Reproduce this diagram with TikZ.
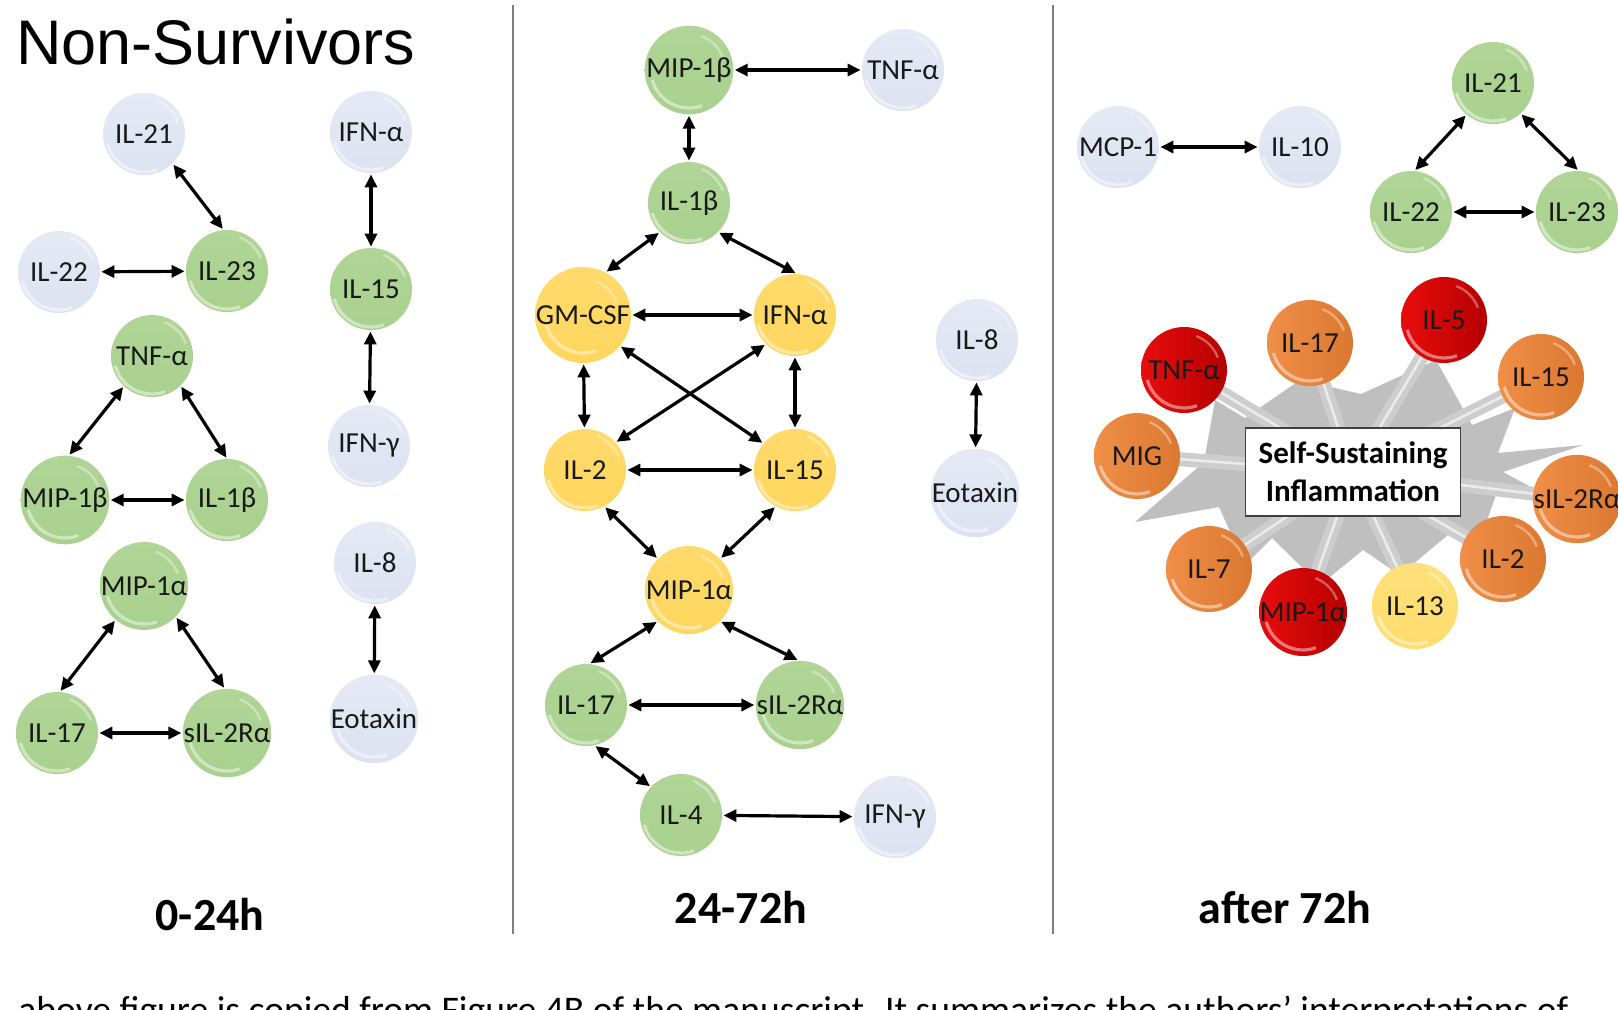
\documentclass[tikz,border=0pt]{standalone}
\usepackage{fontspec}
\setmainfont{Carlito}
\newfontfamily\arialf{Liberation Sans}
\usetikzlibrary{arrows.meta}
\definecolor{cblue}{HTML}{DCE2F1}
\definecolor{cgreen}{HTML}{A9D18E}
\definecolor{cyel}{HTML}{FFD65E}
\definecolor{cyeltwo}{HTML}{FFDC6C}
\definecolor{corange}{HTML}{EE8234}
\definecolor{cred}{HTML}{E80000}
\definecolor{cstar}{HTML}{BFBFBF}
\definecolor{crod}{HTML}{CDCDCD}
\definecolor{cdiv}{HTML}{7F7F7F}
\tikzset{
  bub/.style={circle, inner sep=0pt, minimum size=41pt, text=black!90,
    font=\fontsize{14.5}{16}\selectfont},
  hl/.style={path picture={
     \draw[white, opacity=0.45, line width=1.6pt] (path picture bounding box.center)
        ++(-165:19pt) arc[start angle=-165, end angle=-70, radius=19pt];
     \draw[white, opacity=0.35, line width=1.2pt] (path picture bounding box.center)
        ++(20:18pt) arc[start angle=20, end angle=70, radius=18pt];}},
  bl/.style={bub, hl, top color=cblue!75!white, bottom color=cblue},
  gr/.style={bub, hl, top color=cgreen!92!white, bottom color=cgreen},
  ye/.style={bub, hl, top color=cyel!92!white, bottom color=cyel},
  big/.style={minimum size=43pt},
  og/.style={bub, big, hl, left color=corange!90!white, right color=corange!92!black},
  rd/.style={bub, big, hl, left color=cred!95!white, right color=cred!78!black},
  yl/.style={bub, big, hl, top color=cyeltwo!90!white, bottom color=cyeltwo},
  arr/.style={{Triangle[length=6.5pt,width=6pt]}-{Triangle[length=6.5pt,width=6pt]},
    line width=1.6pt, black, shorten <=0.5pt, shorten >=0.5pt},
  period/.style={anchor=base, inner sep=0pt, font=\bfseries\fontsize{23}{26}\selectfont},
  rod/.style={line width=7pt, crod},
  rodhl/.style={line width=1.3pt, white, opacity=0.6},
  divider/.style={cdiv, line width=1pt}
}
\begin{document}
\begin{tikzpicture}[x=0.5pt, y=-0.5pt]
\useasboundingbox (0,0) rectangle (1618,1009);
\clip (0,0) rectangle (1618,1009);
\fill[white] (0,0) rectangle (1618,1009);

% title
\node[anchor=base west, inner sep=0pt, font=\arialf\fontsize{31.5}{36}\selectfont] (title) at (16,64) {Non-Survivors};

% dividers
\coordinate (d1t) at (513,5); \coordinate (d1b) at (513,934);
\coordinate (d2t) at (1053,5); \coordinate (d2b) at (1053,934);
\draw[divider] (d1t) -- (d1b);
\draw[divider] (d2t) -- (d2b);

% ---------- panel 1 ----------
\node[bl] (a21) at (144,134) {IL-21};
\node[bl] (aIFNa) at (371,132) {IFN-α};
\node[bl] (a22) at (59,272) {IL-22};
\node[gr] (a23) at (227,271) {IL-23};
\node[gr] (a15) at (371,289) {IL-15};
\node[gr] (aTNF) at (152,356) {TNF-α};
\node[bl] (aIFNg) at (369,446) {IFN-γ};
\node[gr] (aMIPb) at (65,500) {MIP-1β};
\node[gr] (a1b) at (227,500) {IL-1β};
\node[gr] (aMIPa) at (144,586) {MIP-1α};
\node[gr] (a17) at (57,733) {IL-17};
\node[gr] (aS2R) at (227,733) {sIL-2Rα};
\node[bl] (a8) at (375,563) {IL-8};
\node[bl] (aEot) at (374,719) {Eotaxin};
\node[period] (t1) at (210,930) {0-24h};

\draw[arr] (a21.-46) -- (a23.95);
\draw[arr] (a22) -- (a23);
\draw[arr] (aIFNa) -- (a15);
\draw[arr] (a15) -- (aIFNg);
\draw[arr] (aTNF.-133) -- (aMIPb.85);
\draw[arr] (aTNF.-46) -- (a1b.90);
\draw[arr] (aMIPb) -- (a1b);
\draw[arr] (aMIPa.-130) -- (a17.86);
\draw[arr] (aMIPa.-44) -- (aS2R.93);
\draw[arr] (a17) -- (aS2R);
\draw[arr] (a8) -- (aEot);

% ---------- panel 2 ----------
\node[gr] (bMIPb) at (689,70) {MIP-1β};
\node[bl] (bTNF) at (903,70) {TNF-α};
\node[gr] (b1b) at (689,203) {IL-1β};
\node[ye] (bGM) at (583,315) {GM-CSF};
\node[ye] (bIFNa) at (795,315) {IFN-α};
\node[ye] (b2) at (585,470) {IL-2};
\node[ye] (b15) at (795,470) {IL-15};
\node[bl] (b8) at (977,340) {IL-8};
\node[bl] (bEot) at (975,493) {Eotaxin};
\node[ye] (bMIPa) at (689,590) {MIP-1α};
\node[gr] (b17) at (586,705) {IL-17};
\node[gr] (bS2R) at (800,705) {sIL-2Rα};
\node[gr] (b4) at (681,815) {IL-4};
\node[bl] (bIFNg) at (895,817) {IFN-γ};
\node[period] (t2) at (741,923) {24-72h};

\draw[arr] (bMIPb) -- (bTNF);
\draw[arr] (bMIPb) -- (b1b);
\draw[arr] (b1b.-135) -- (bGM.62);
\draw[arr] (b1b.-45) -- (bIFNa.88);
\draw[arr] (bGM) -- (bIFNa);
\draw[arr] (bGM) -- (b2);
\draw[arr] (bIFNa) -- (b15);
\draw[arr] (bGM.-40) -- (b15.140);
\draw[arr] (bIFNa.-135) -- (b2.42);
\draw[arr] (b2) -- (b15);
\draw[arr] (b2.-62) -- (bMIPa.135);
\draw[arr] (b15.-118) -- (bMIPa.45);
\draw[arr] (bMIPa.-135) -- (b17.85);
\draw[arr] (bMIPa.-45) -- (bS2R.92);
\draw[arr] (b17) -- (bS2R);
\draw[arr] (b17.-78) -- (b4.137);
\draw[arr] (b4) -- (bIFNg);
\draw[arr] (b8) -- (bEot);

% ---------- panel 3 ----------
\node[bl] (cMCP) at (1118,147) {MCP-1};
\node[bl] (c10) at (1300,147) {IL-10};
\node[gr] (c21) at (1493,83) {IL-21};
\node[gr] (c22) at (1411,212) {IL-22};
\node[gr] (c23) at (1577,212) {IL-23};
\draw[arr] (cMCP) -- (c10);
\draw[arr] (c21.-130) -- (c22.85);
\draw[arr] (c21.-48) -- (c23.88);
\draw[arr] (c22) -- (c23);

% starburst
\coordinate (sc) at (1353,472);
\fill[cstar] (1583,445) -- (1498,453) -- (1515,408) -- (1472,425) -- (1436,360)
  -- (1361,394) -- (1300,380) -- (1245,418) -- (1215,400) -- (1204,462)
  -- (1135,522) -- (1219,507) -- (1245,565) -- (1272,538) -- (1320,585)
  -- (1363,550) -- (1400,575) -- (1455,529) -- (1480,540) -- (1496,495)
  -- (1540,492) -- (1503,472) -- cycle;

\coordinate (p5) at (1444,320);
\coordinate (p17) at (1310,343);
\coordinate (pTNF) at (1184,370);
\coordinate (p15) at (1541,377);
\coordinate (pMIG) at (1137,456);
\coordinate (pS2R) at (1577,499);
\coordinate (p2) at (1503,559);
\coordinate (p7) at (1209,569);
\coordinate (pMIPa) at (1303,612);
\coordinate (p13) at (1415,606);

\foreach \p in {p5,p17,pTNF,p15,pMIG,pS2R,p2,p7,pMIPa,p13}{
  \draw[rod] (\p) -- (sc);
  \draw[rodhl] (\p) -- (sc);
}

\node[draw=black!75, line width=0.6pt, fill=white, minimum width=107.5pt, minimum height=44pt,
  align=center, font=\bfseries\fontsize{15.5}{19}\selectfont] (box) at (sc) {Self-Sustaining\\Inflammation};

\node[rd] (c5) at (p5) {IL-5};
\node[og] (c17) at (p17) {IL-17};
\node[rd] (cTNF) at (pTNF) {TNF-α};
\node[og] (c15) at (p15) {IL-15};
\node[og] (cMIG) at (pMIG) {MIG};
\node[og] (cS2R) at (pS2R) {sIL-2Rα};
\node[og] (c2) at (p2) {IL-2};
\node[og] (c7) at (p7) {IL-7};
\node[rd] (cMIPa) at (pMIPa) {MIP-1α};
\node[yl] (c13) at (p13) {IL-13};

\node[period] (t3) at (1285,923) {after 72h};

% footer (cut off at the lower edge, as in the reference)
\node[anchor=base west, inner sep=0pt, font=\fontsize{18.8}{22}\selectfont] (foot) at (18,1022)
  {above figure is copied from Figure 4B of the manuscript. It summarizes the authors’ interpretations of};
\end{tikzpicture}
\end{document}
